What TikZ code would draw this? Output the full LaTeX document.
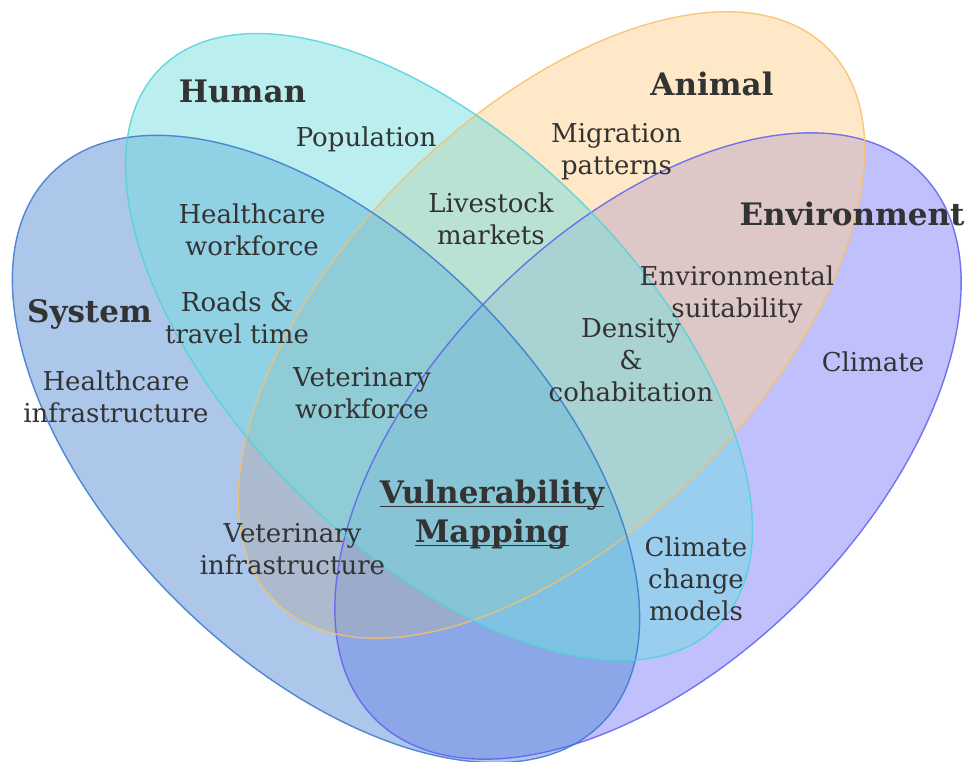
\documentclass[tikz,border=0pt]{standalone}
\usepackage{fontspec}
\setmainfont{DejaVu Serif}
\definecolor{sysF}{RGB}{89,143,211}
\definecolor{sysD}{RGB}{58,120,208}
\definecolor{humF}{RGB}{117,221,223}
\definecolor{humD}{RGB}{78,212,216}
\definecolor{aniF}{RGB}{253,209,145}
\definecolor{aniD}{RGB}{246,193,106}
\definecolor{envF}{RGB}{129,129,251}
\definecolor{envD}{RGB}{96,96,240}
\definecolor{txt}{RGB}{51,51,51}
\begin{document}
\begin{tikzpicture}[x=1pt,y=-1pt,
  lab/.style={text=txt, font=\fontsize{26}{32}\selectfont, align=center, inner sep=0pt,
    execute at begin node={\strut}, execute at end node={\strut}},
  head/.style={text=txt, font=\fontsize{31}{37}\selectfont\bfseries, inner sep=0pt, anchor=base},
  blob/.style={fill opacity=0.5},
  rim/.style={line width=1.4pt, draw opacity=0.85}]
\useasboundingbox (0,0) rectangle (975,762);
% fills
\fill[envF, blob, shift={(648,446)}, rotate=45] (0,0) ellipse [x radius=386pt, y radius=217pt];
\fill[aniF, blob, shift={(551.5,325)}, rotate=45] (0,0) ellipse [x radius=391pt, y radius=208pt];
\fill[sysF, blob, shift={(326,449)}, rotate=-45] (0,0) ellipse [x radius=389pt, y radius=213pt];
\fill[humF, blob, shift={(439,347)}, rotate=-45] (0,0) ellipse [x radius=394pt, y radius=203pt];
% rims
\draw[envD, rim, shift={(648,446)}, rotate=45] (0,0) ellipse [x radius=386pt, y radius=217pt];
\draw[aniD, rim, shift={(551.5,325)}, rotate=45] (0,0) ellipse [x radius=391pt, y radius=208pt];
\draw[sysD, rim, shift={(326,449)}, rotate=-45] (0,0) ellipse [x radius=389pt, y radius=213pt];
\draw[humD, rim, shift={(439,347)}, rotate=-45] (0,0) ellipse [x radius=394pt, y radius=203pt];
% headings
\node[head] (human) at (242.5,103) {Human};
\node[head] (animal) at (712,96) {Animal};
\node[head] (environment) at (852,226) {Environment};
\node[head] (system) at (89.5,322) {System};
% labels
\node[lab] (population) at (366,140.6) {Population};
\node[lab] (migration) at (616.5,153.6) {Migration\\patterns};
\node[lab] (livestock) at (491,223.6) {Livestock\\markets};
\node[lab] (hcwork) at (252,234.6) {Healthcare\\workforce};
\node[lab] (roads) at (237,322.6) {Roads \&\\travel time};
\node[lab] (hcinfra) at (116,401.6) {Healthcare\\infrastructure};
\node[lab] (envsuit) at (737,296.1) {Environmental\\suitability};
\node[lab] (density) at (631,364.6) {Density\\\&\\cohabitation};
\node[lab] (climate) at (873,364.6) {Climate};
\node[lab] (vetwork) at (362,397.6) {Veterinary\\workforce};
\node[lab] (vetinfra) at (292.5,554.1) {Veterinary\\infrastructure};
\node[lab] (ccm) at (696,583.6) {Climate\\change\\models};
% centre
\node[head] (vm1) at (492,503) {Vulnerability};
\node[head] (vm2) at (492,542) {Mapping};
\draw[txt, line width=1.6pt] ([yshift=-3.5pt]vm1.base west) -- ([yshift=-3.5pt]vm1.base east);
\draw[txt, line width=1.6pt] ([yshift=-3.5pt]vm2.base west) -- ([yshift=-3.5pt]vm2.base east);
\end{tikzpicture}
\end{document}
